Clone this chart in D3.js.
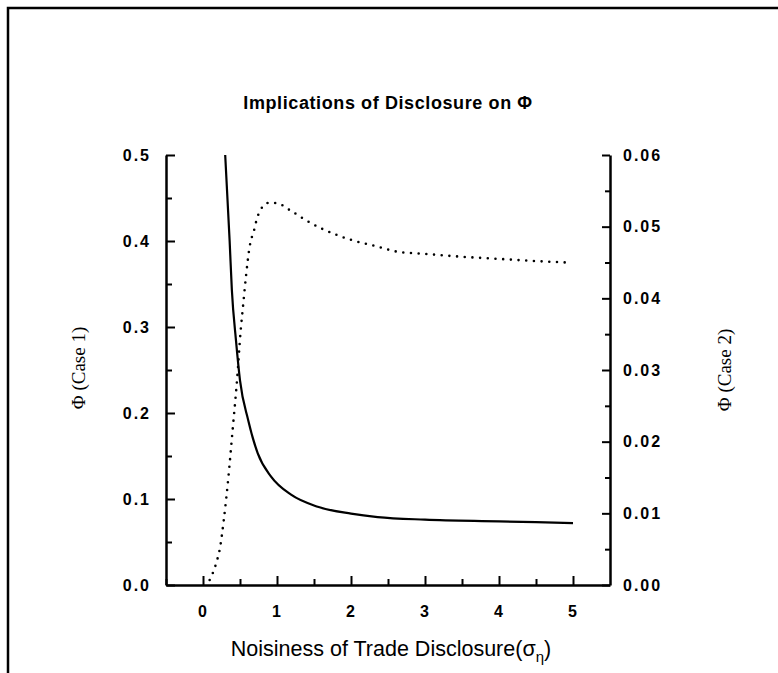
<!DOCTYPE html>
<html>
<head>
<meta charset="utf-8">
<script src="https://cdn.jsdelivr.net/npm/d3@7"></script>
<style>
  body { margin: 0; background: #fff; }
  svg { display: block; }
  .tick text { font-family: Arial, "Liberation Sans", sans-serif; font-weight: bold; font-size: 16px; fill: #000; letter-spacing: 2px; }
</style>
</head>
<body>
<svg id="chart" width="778" height="673"></svg>
<script>
"use strict";

// Case 1 (solid line, left axis)
let sigma1 = [0.30, 0.36, 0.39, 0.445, 0.50, 0.61, 0.74, 0.92, 1.19, 1.55, 2.0, 2.36, 3.0, 4.0, 5.0];
let phi1 = [0.50, 0.40, 0.343, 0.285, 0.238, 0.192, 0.153, 0.126, 0.105, 0.091, 0.083, 0.079, 0.076, 0.074, 0.072];

// Case 2 (dotted line, right axis)
let sigma2 = [0.09, 0.18, 0.23, 0.28, 0.34, 0.40, 0.46, 0.51, 0.54, 0.58, 0.63, 0.69, 0.74, 0.88, 0.98,
              1.19, 1.39, 1.59, 1.82, 2.02, 2.33, 2.63, 3.0, 3.5, 4.0, 4.5, 4.92];
let phi2 = [0.0007, 0.0031, 0.0052, 0.009, 0.0147, 0.0216, 0.0286, 0.0356, 0.0388, 0.043, 0.0472, 0.0495, 0.0515, 0.0533, 0.0533,
            0.0522, 0.0509, 0.0498, 0.0488, 0.0481, 0.0473, 0.0465, 0.0462, 0.0458, 0.0455, 0.0452, 0.0450];

let xTicks = [0, 1, 2, 3, 4, 5];
let yLeftTicks = [0, 0.1, 0.2, 0.3, 0.4, 0.5];
let yRightTicks = [0, 0.01, 0.02, 0.03, 0.04, 0.05, 0.06];

let svg = d3.select('#chart');

// frame (top and left edges only)
svg.append('path')
    .attr('d', 'M8,673 V8 H778')
    .attr('fill', 'none')
    .attr('stroke', '#000')
    .attr('stroke-width', 2.5);

let plotL = 166, plotR = 610, plotT = 155, plotB = 585;

let x = d3.scaleLinear().domain([-0.5, 5.5]).range([plotL, plotR]);
let y1 = d3.scaleLinear().domain([0, 0.5]).range([plotB, plotT]);
let y2 = d3.scaleLinear().domain([0, 0.06]).range([plotB, plotT]);

// minor ticks
svg.append('g')
    .attr('transform', 'translate(' + plotL + ',0)')
    .call(d3.axisLeft(y1).tickValues([0.05, 0.15, 0.25, 0.35, 0.45]).tickSize(-6).tickFormat(''))
    .call(g => g.select('.domain').remove());
svg.append('g')
    .attr('transform', 'translate(' + plotR + ',0)')
    .call(d3.axisRight(y2).tickValues([0.005, 0.015, 0.025, 0.035, 0.045, 0.055]).tickSize(-5).tickFormat(''))
    .call(g => g.select('.domain').remove());
svg.append('g')
    .attr('transform', 'translate(0,' + plotB + ')')
    .call(d3.axisBottom(x).tickValues([-0.5, 0.5, 1.5, 2.5, 3.5, 4.5]).tickSize(-6).tickFormat(''))
    .call(g => g.select('.domain').remove());

// major axes
svg.append('g')
    .attr('transform', 'translate(0,' + plotB + ')')
    .call(d3.axisBottom(x).tickValues(xTicks).tickSize(-9).tickPadding(21).tickSizeOuter(0).tickFormat(d3.format('d')));
svg.append('g')
    .attr('transform', 'translate(' + plotL + ',0)')
    .call(d3.axisLeft(y1).tickValues(yLeftTicks).tickSize(-9).tickPadding(15).tickSizeOuter(0).tickFormat(d3.format('.1f')));
svg.append('g')
    .attr('transform', 'translate(' + plotR + ',0)')
    .call(d3.axisRight(y2).tickValues(yRightTicks).tickSize(-8).tickPadding(13).tickSizeOuter(0).tickFormat(d3.format('.2f')));

svg.selectAll('.domain').attr('stroke-width', 2.5);
svg.selectAll('.tick line').attr('stroke-width', 2);

// curves
let line1 = d3.line()
    .x((d, i) => x(sigma1[i]))
    .y(d => y1(d))
    .curve(d3.curveMonotoneX);
let line2 = d3.line()
    .x((d, i) => x(sigma2[i]))
    .y(d => y2(d))
    .curve(d3.curveMonotoneX);

svg.append('path')
    .datum(phi1)
    .attr('d', line1)
    .attr('fill', 'none')
    .attr('stroke', '#000')
    .attr('stroke-width', 2.2);

svg.append('path')
    .datum(phi2)
    .attr('d', line2)
    .attr('fill', 'none')
    .attr('stroke', '#000')
    .attr('stroke-width', 2.6)
    .attr('stroke-linecap', 'round')
    .attr('stroke-dasharray', '0 7.7');

// titles
svg.append('text')
    .attr('x', 388)
    .attr('y', 109)
    .attr('text-anchor', 'middle')
    .style('font-family', 'Arial, "Liberation Sans", sans-serif')
    .style('font-weight', 'bold')
    .style('font-size', '18px')
    .style('letter-spacing', '0.6px')
    .text('Implications of Disclosure on Φ');

let xl = svg.append('text')
    .attr('x', 391)
    .attr('y', 656)
    .attr('text-anchor', 'middle')
    .style('font-family', 'Arial, "Liberation Sans", sans-serif')
    .style('font-size', '21.5px');
xl.append('tspan').text('Noisiness of Trade Disclosure(σ');
xl.append('tspan').attr('dy', 6).style('font-size', '15px').text('η');
xl.append('tspan').attr('dy', -6).text(')');

svg.append('text')
    .attr('transform', 'translate(85,368) rotate(-90)')
    .attr('text-anchor', 'middle')
    .style('font-family', '"Liberation Serif", "Times New Roman", serif')
    .style('font-size', '19px')
    .text('Φ (Case 1)');

svg.append('text')
    .attr('transform', 'translate(731,370) rotate(-90)')
    .attr('text-anchor', 'middle')
    .style('font-family', '"Liberation Serif", "Times New Roman", serif')
    .style('font-size', '19px')
    .text('Φ (Case 2)');
</script>
</body>
</html>
